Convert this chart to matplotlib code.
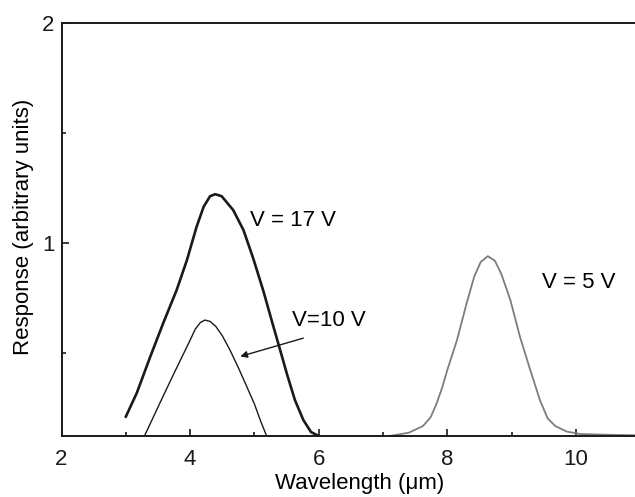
import matplotlib
matplotlib.use('Agg')  # no display
import matplotlib.pyplot as plt

plt.rcParams['font.family'] = ['Liberation Sans', 'DejaVu Sans']

# V = 17 V (thick curve)
wl_17 = [3.00, 3.17, 3.38, 3.58, 3.79, 3.95, 4.10, 4.21, 4.31, 4.39, 4.49, 4.67,
         4.83, 4.98, 5.14, 5.28, 5.40, 5.51, 5.63, 5.76, 5.88, 6.00]
resp_17 = [0.213, 0.320, 0.485, 0.636, 0.787, 0.923, 1.074, 1.165, 1.213, 1.222, 1.213, 1.150,
           1.059, 0.932, 0.782, 0.637, 0.515, 0.402, 0.288, 0.198, 0.143, 0.125]

# V = 10 V (thin curve)
wl_10 = [3.29, 3.45, 3.60, 3.75, 3.90, 4.00, 4.08, 4.16, 4.23, 4.31, 4.40, 4.50,
         4.62, 4.75, 4.88, 5.00, 5.10, 5.19]
resp_10 = [0.125, 0.225, 0.318, 0.410, 0.500, 0.560, 0.610, 0.640, 0.651, 0.645, 0.622, 0.580,
           0.515, 0.435, 0.350, 0.270, 0.190, 0.125]

# V = 5 V (grey curve)
wl_5 = [7.10, 7.40, 7.62, 7.74, 7.83, 7.92, 8.00, 8.15, 8.30, 8.42, 8.52, 8.63,
        8.74, 8.84, 8.98, 9.13, 9.29, 9.44, 9.56, 9.68, 9.86, 10.07, 10.60, 11.20]
resp_5 = [0.125, 0.140, 0.170, 0.210, 0.270, 0.345, 0.425, 0.560, 0.727, 0.850, 0.915, 0.941,
          0.920, 0.860, 0.742, 0.575, 0.424, 0.288, 0.205, 0.170, 0.145, 0.134, 0.130, 0.127]

x_major = [2, 4, 6, 8, 10]
x_minor = [3, 5, 7, 9, 11]
y_major = [1, 2]
y_minor = [0.5, 1.5]

fig = plt.figure(figsize=(6.35, 4.97), dpi=100)
# plot area runs past the right edge of the picture
ax = fig.add_axes([0.0969, 0.1227, 1.0126, 0.8316])

ax.plot(wl_17, resp_17, color='#1a1a1a', lw=1.9, solid_joinstyle='round')
ax.plot(wl_10, resp_10, color='#1a1a1a', lw=1.0, solid_joinstyle='round')
ax.plot(wl_5, resp_5, color='#7d7d7d', lw=1.3, solid_joinstyle='round')

ax.set_xlim(2, 12)
ax.set_ylim(0.125, 2)
ax.set_xticks(x_major)
ax.set_xticks(x_minor, minor=True)
ax.set_yticks(y_major)
ax.set_yticks(y_minor, minor=True)

ax.tick_params(which='both', direction='in', width=1.2, colors='#1a1a1a',
               labelsize=16, top=False, right=False)
ax.tick_params(which='major', length=5)
ax.tick_params(which='minor', length=3)
ax.tick_params(axis='x', pad=9)
ax.tick_params(axis='y', pad=5)
for s in ax.spines.values():
    s.set_linewidth(1.4)
    s.set_color('#1a1a1a')

ax.set_xlabel('Wavelength (μm)', fontsize=16)
ax.xaxis.set_label_coords(0.464, -0.09)
ax.set_ylabel('Response (arbitrary units)', fontsize=16)
ax.yaxis.set_label_coords(-0.043, 0.506)

# curve labels
ax.text(4.93, 1.078, 'V = 17 V', fontsize=16, va='baseline')
ax.text(5.58, 0.622, 'V=10 V', fontsize=16, va='baseline')
ax.text(9.47, 0.796, 'V = 5 V', fontsize=16, va='baseline')
ax.annotate('', xy=(4.78, 0.486), xytext=(5.76, 0.569),
            arrowprops=dict(arrowstyle='-|>', color='#1a1a1a', lw=1.0,
                            mutation_scale=10, shrinkA=0, shrinkB=0))

fig.savefig('out.png', dpi=100)
plt.close()
